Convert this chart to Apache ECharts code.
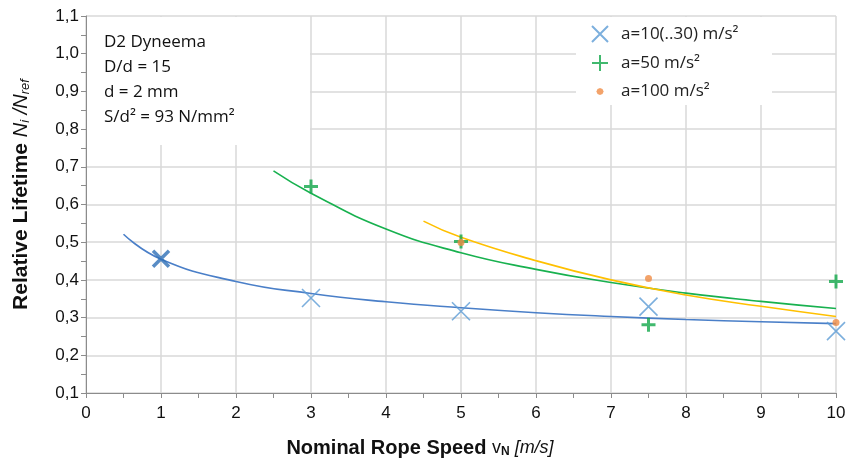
<!DOCTYPE html>
<html>
<head>
<meta charset="utf-8">
<script src="https://cdn.jsdelivr.net/npm/echarts@6/dist/echarts.min.js"></script>
<style>
  html, body { margin: 0; padding: 0; background: #fff; }
  #chart { width: 850px; height: 460px; }
</style>
</head>
<body>
<div id="chart"></div>
<script>
// measured points (speed in m/s, relative lifetime)
const a10Speed = [1, 3, 5, 7.5, 10];
const a10Life = [0.456, 0.352, 0.317, 0.329, 0.264];
const a50Speed = [3, 5, 7.5, 10];
const a50Life = [0.648, 0.502, 0.281, 0.396];
const a100Speed = [5, 7.5, 10];
const a100Life = [0.499, 0.404, 0.287];

// trend curves
const fit10Speed = [0.5, 1, 2, 3, 4, 5, 6, 7, 8, 9, 10];
const fit10Life = [0.521, 0.455, 0.396, 0.364, 0.342, 0.326, 0.313, 0.303, 0.295, 0.289, 0.284];
const fit50Speed = [2.5, 3, 4, 5, 6, 7, 8, 9, 10];
const fit50Life = [0.689, 0.630, 0.535, 0.472, 0.428, 0.393, 0.365, 0.343, 0.324];
const fit100Speed = [4.5, 5, 6, 7, 8, 9, 10];
const fit100Life = [0.556, 0.513, 0.451, 0.400, 0.360, 0.330, 0.303];

const legendNames = ['a=10(..30) m/s²', 'a=50 m/s²', 'a=100 m/s²'];
const infoLines = ['D2 Dyneema', 'D/d = 15', 'd = 2 mm', 'S/d² = 93 N/mm²'];

const pairs = (xs, ys) => xs.map((x, i) => [x, ys[i]]);

const crossPath = 'path://M0,0 L10,10 M10,0 L0,10';
const plusPath = 'path://M5,0 L5,10 M0,5 L10,5';
// small dot inside a larger empty box, for the legend only
const dotIcon = 'path://M0,0 M16,16 M8,4.4 L10.5,5.5 L11.6,8 L10.5,10.5 L8,11.6 L5.5,10.5 L4.4,8 L5.5,5.5 Z';

const titleFont = 'Liberation Sans Narrow, Liberation Sans, sans-serif';

const chart = echarts.init(document.getElementById('chart'));

chart.setOption({
  animation: false,
  textStyle: { fontFamily: 'Liberation Sans, Arial, sans-serif' },
  grid: { left: 86, right: 14, top: 16, bottom: 67, outerBoundsMode: 'none' },
  legend: {
    orient: 'vertical',
    left: 586,
    top: 20,
    itemGap: 11,
    itemWidth: 22,
    itemHeight: 16,
    data: [
      { name: legendNames[0] },
      { name: legendNames[1] },
      { name: legendNames[2], icon: dotIcon }
    ],
    textStyle: { fontSize: 17, color: '#222', fontFamily: 'Open Sans, sans-serif', padding: [0, 0, 0, 5] }
  },
  graphic: [
    // white boxes behind the notes and the legend
    { type: 'rect', z: 1, shape: { x: 87, y: 17, width: 223, height: 128 }, style: { fill: '#fff' } },
    { type: 'rect', z: 1, shape: { x: 576, y: 17, width: 196, height: 88 }, style: { fill: '#fff' } }
  ].concat(infoLines.map((t, i) => ({
    type: 'text',
    z: 5,
    left: 104,
    top: 34 + i * 25,
    style: { text: t, fontSize: 17, fill: '#111', fontFamily: 'Open Sans, sans-serif' }
  }))),
  xAxis: {
    type: 'value',
    min: 0,
    max: 10,
    interval: 1,
    name: '{b|Nominal Rope Speed }{n|v}{s|N}{i| [m/s]}',
    nameLocation: 'middle',
    nameGap: 45,
    nameTextStyle: {
      padding: [0, 82, 0, 0],
      rich: {
        b: { fontSize: 20, fontWeight: 'bold', color: '#111', fontFamily: titleFont },
        n: { fontSize: 18, color: '#111', fontFamily: titleFont },
        s: { fontSize: 12, fontWeight: 'bold', color: '#111', verticalAlign: 'bottom', padding: [8, 0, 0, 0], fontFamily: titleFont },
        i: { fontSize: 18, fontStyle: 'italic', color: '#111', fontFamily: titleFont }
      }
    },
    axisLine: { lineStyle: { color: '#8c8c8c', width: 1 } },
    axisTick: { show: true, length: 5, lineStyle: { color: '#8c8c8c' } },
    minorTick: { show: true, splitNumber: 2, length: 5, lineStyle: { color: '#8c8c8c' } },
    axisLabel: { fontSize: 17, color: '#111', margin: 12 },
    splitLine: { show: true, lineStyle: { color: '#d9d9d9', width: 1.5 } }
  },
  yAxis: {
    type: 'value',
    min: 0.1,
    max: 1.1,
    interval: 0.1,
    name: '{b|Relative Lifetime }{i|N}{s|i}{i| /N}{s|ref}',
    nameLocation: 'middle',
    nameGap: 54,
    nameRotate: 90,
    nameTextStyle: {
      padding: [0, 0, 0, 20],
      rich: {
        b: { fontSize: 21, fontWeight: 'bold', color: '#111', fontFamily: titleFont },
        i: { fontSize: 20, fontStyle: 'italic', color: '#111', fontFamily: titleFont },
        s: { fontSize: 13, fontStyle: 'italic', color: '#111', verticalAlign: 'bottom', padding: [8, 0, 0, 0], fontFamily: titleFont }
      }
    },
    axisLine: { show: true, lineStyle: { color: '#8c8c8c', width: 1 } },
    axisTick: { show: true, length: 5, lineStyle: { color: '#8c8c8c' } },
    minorTick: { show: true, splitNumber: 2, length: 5, lineStyle: { color: '#8c8c8c' } },
    axisLabel: {
      fontSize: 17,
      color: '#111',
      margin: 7,
      formatter: v => v.toFixed(1).replace('.', ',')
    },
    splitLine: { show: true, lineStyle: { color: '#d9d9d9', width: 1.5 } }
  },
  series: [
    {
      name: 'fit10',
      type: 'line',
      smooth: true,
      showSymbol: false,
      silent: true,
      z: 2,
      lineStyle: { color: '#4a7fc8', width: 1.6 },
      data: pairs(fit10Speed, fit10Life)
    },
    {
      name: 'fit50',
      type: 'line',
      smooth: true,
      showSymbol: false,
      silent: true,
      z: 2,
      lineStyle: { color: '#18b14f', width: 1.6 },
      data: pairs(fit50Speed, fit50Life)
    },
    {
      name: 'fit100',
      type: 'line',
      smooth: true,
      showSymbol: false,
      silent: true,
      z: 2,
      lineStyle: { color: '#ffc000', width: 1.6 },
      data: pairs(fit100Speed, fit100Life)
    },
    {
      name: legendNames[0],
      type: 'scatter',
      symbol: crossPath,
      symbolSize: 18,
      z: 3,
      itemStyle: { color: 'transparent', borderColor: '#5b9bd5', borderWidth: 1.6 },
      data: pairs(a10Speed, a10Life).map((p, i) => i === 0
        ? { value: p, itemStyle: { borderColor: '#2e6fb7', borderWidth: 3.5 }, symbolSize: 16 }
        : p)
    },
    {
      name: legendNames[1],
      type: 'scatter',
      symbol: plusPath,
      symbolSize: 14,
      z: 3,
      itemStyle: { color: 'transparent', borderColor: '#12a84a', borderWidth: 3 },
      data: pairs(a50Speed, a50Life)
    },
    {
      name: legendNames[2],
      type: 'scatter',
      symbol: 'circle',
      symbolSize: 7,
      z: 4,
      itemStyle: { color: '#f08c45' },
      data: pairs(a100Speed, a100Life)
    }
  ]
});
</script>
</body>
</html>
